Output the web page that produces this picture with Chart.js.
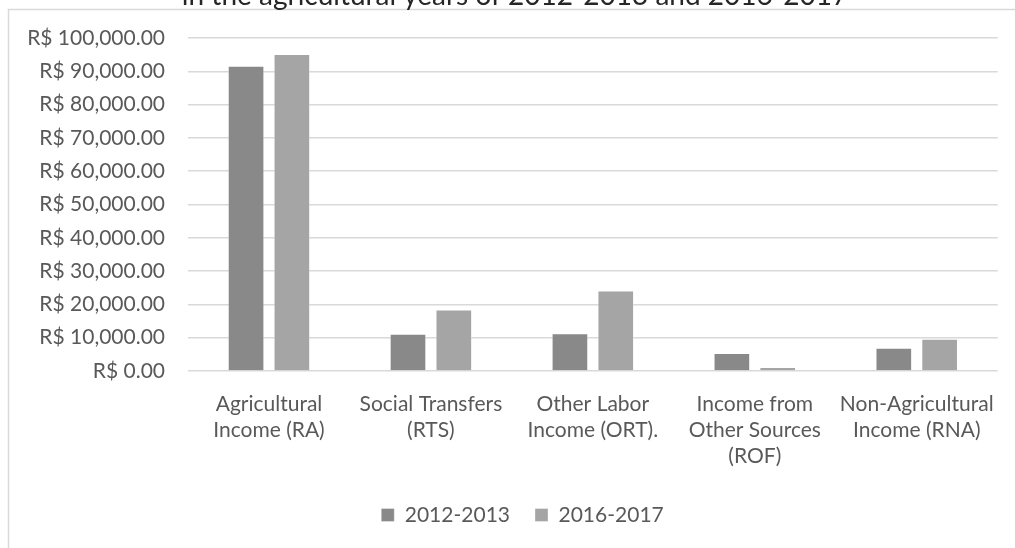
<!DOCTYPE html>
<html>
<head>
<meta charset="utf-8">
<script src="https://cdn.jsdelivr.net/npm/chart.js@4/dist/chart.umd.min.js"></script>
<style>
  html, body { margin: 0; padding: 0; background: #ffffff; }
  #rendaChart { display: block; }
</style>
</head>
<body>
<canvas id="rendaChart" width="1015" height="548"></canvas>
<script>
const titleText = 'in the agricultural years of 2012-2013 and 2016-2017';

const categories = [
  ['Agricultural', 'Income (RA)'],
  ['Social Transfers', '(RTS)'],
  ['Other Labor', 'Income (ORT).'],
  ['Income from', 'Other Sources', '(ROF)'],
  ['Non-Agricultural', 'Income (RNA)']
];

const seriesNames = ['2012-2013', '2016-2017'];
const values2012 = [91700, 11200, 11300, 5400, 7000];
const values2016 = [95200, 18500, 24200, 1200, 9700];

const yMax = 100000;
const yStep = 10000;

const fontFamily = "Lato, 'Open Sans', sans-serif";
const textColor = '#595959';
const gridColor = '#d9d9d9';

function formatReal(value) {
  return 'R$ ' + Number(value).toLocaleString('en-US', {
    minimumFractionDigits: 2,
    maximumFractionDigits: 2
  });
}

// moldura do gráfico e título (cortado no topo)
const frameAndTitle = {
  id: 'frameAndTitle',
  afterLayout(chart) {
    // posiciona a legenda sob o gráfico
    const legend = chart.legend;
    legend.top = 479.5;
    legend.left += 22;
    legend.right += 22;
  },
  beforeDraw(chart) {
    const ctx = chart.ctx;
    ctx.save();
    ctx.strokeStyle = gridColor;
    ctx.lineWidth = 1.5;
    ctx.beginPath();
    ctx.moveTo(8.5, chart.height);
    ctx.lineTo(8.5, 9.5);
    ctx.lineTo(chart.width, 9.5);
    ctx.stroke();
    ctx.restore();
  },
  afterDraw(chart) {
    const ctx = chart.ctx;
    ctx.save();
    ctx.font = '28px ' + fontFamily;
    ctx.fillStyle = '#262626';
    ctx.textAlign = 'center';
    ctx.textBaseline = 'alphabetic';
    ctx.fillText(titleText, 515, 5);
    ctx.restore();
  }
};

new Chart(document.getElementById('rendaChart'), {
  type: 'bar',
  data: {
    labels: categories,
    datasets: [
      {
        label: seriesNames[0],
        data: values2012,
        backgroundColor: '#898989',
        borderColor: 'rgba(255,255,255,0.35)',
        borderWidth: 1
      },
      {
        label: seriesNames[1],
        data: values2016,
        backgroundColor: '#a5a5a5',
        borderColor: 'rgba(255,255,255,0.35)',
        borderWidth: 1
      }
    ]
  },
  options: {
    responsive: false,
    animation: false,
    categoryPercentage: 0.566,
    barPercentage: 0.8,
    layout: {
      padding: { top: 38, right: 14, bottom: 0, left: 0 }
    },
    scales: {
      x: {
        grid: { display: false, drawTicks: false },
        border: { display: false },
        ticks: {
          color: textColor,
          font: { family: fontFamily, size: 21, lineHeight: 1.24 },
          padding: 20,
          maxRotation: 0,
          autoSkip: false
        },
        afterFit(scale) {
          scale.height = 121;
        }
      },
      y: {
        min: 0,
        max: yMax,
        grid: { color: gridColor, lineWidth: 1.5, drawTicks: false },
        border: { display: false },
        ticks: {
          stepSize: yStep,
          color: textColor,
          font: { family: fontFamily, size: 21 },
          padding: 23,
          callback: (value) => formatReal(value)
        },
        afterFit(scale) {
          scale.width = 188;
        }
      }
    },
    plugins: {
      legend: {
        position: 'bottom',
        labels: {
          color: textColor,
          font: { family: fontFamily, size: 21 },
          boxWidth: 13,
          boxHeight: 13,
          padding: 25
        }
      },
      tooltip: { enabled: false },
      title: { display: false }
    }
  },
  plugins: [frameAndTitle]
});
</script>
</body>
</html>
